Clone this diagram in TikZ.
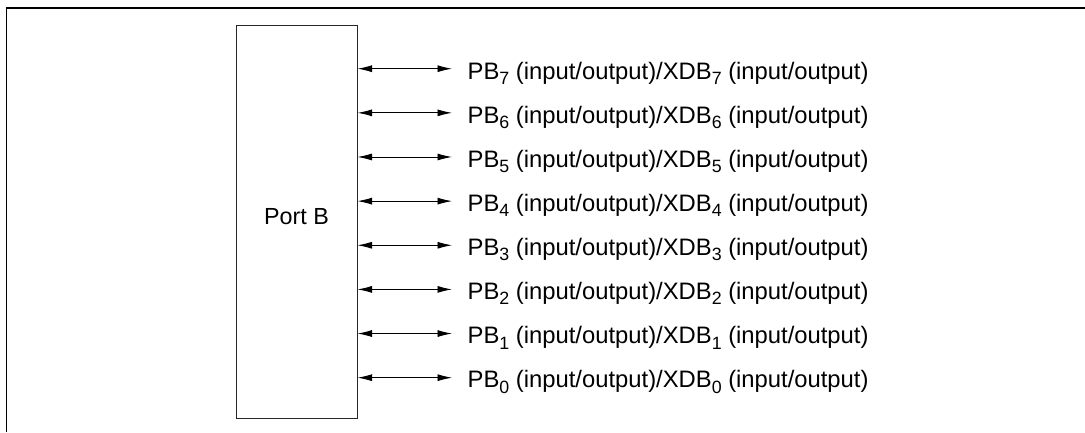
\documentclass[tikz,border=0pt]{standalone}
\usepackage{fontspec}
\setmainfont{Liberation Sans}
\usetikzlibrary{arrows.meta}
\newcommand{\sbs}[1]{\raisebox{-0.22em}{\fontsize{17.8bp}{20bp}\selectfont #1}}
\newcommand{\lbl}[1]{PB\sbs{#1} (input/output)/XDB\sbs{#1} (input/output)}
\begin{document}
\begin{tikzpicture}[x=1bp,y=-1bp,
  frame/.style={line width=1.3bp,black},
  portbox/.style={draw=black!85,line width=1bp},
  bidir/.style={line width=0.9bp,{Latex[length=14.5bp,width=7bp]}-{Latex[length=14.5bp,width=7bp]}},
  sig/.style={anchor=base west,inner sep=0pt,font=\fontsize{23.8bp}{27bp}\selectfont},
  plabel/.style={anchor=base,inner sep=0pt,font=\fontsize{23.3bp}{27bp}\selectfont}]
\useasboundingbox (0,0) rectangle (1085,432);
\draw[frame] (6.5,432) -- (6.5,8) -- (1085,8);
\node[portbox,minimum width=121bp,minimum height=393.5bp,anchor=north west,inner sep=0pt] (box) at (235.5,24.5) {};
\node[plabel] (pl) at (296.5,224) {Port B};
\foreach \i [count=\k from 0] in {7,6,5,4,3,2,1,0}{
  \pgfmathsetmacro{\yy}{68.7+44.14*\k}
  \coordinate (a\i) at (box.east |- 0,\yy);
  \coordinate (b\i) at (452,\yy);
  \draw[bidir] (a\i) -- (b\i);
  \node[sig] (t\i) at (467.5,\yy+10.3) {\lbl{\i}};
}
\end{tikzpicture}
\end{document}
